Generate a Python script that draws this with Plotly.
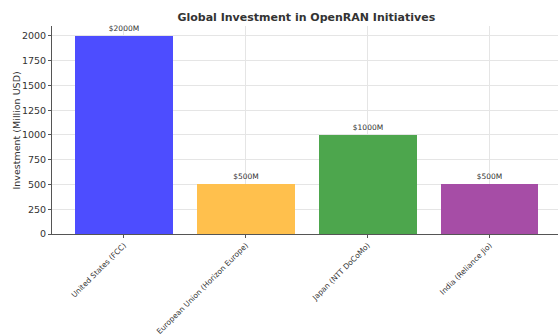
import plotly.graph_objects as go

categories = ["United States (FCC)", "European Union (Horizon Europe)", "Japan (NTT DoCoMo)", "India (Reliance Jio)"]
values = [2000, 500, 1000, 500]
labels = ["$2000M", "$500M", "$1000M", "$500M"]
colors = ["rgb(77,77,255)", "rgb(255,192,77)", "rgb(77,166,77)", "rgb(166,77,166)"]
yticks = [0, 250, 500, 750, 1000, 1250, 1500, 1750, 2000]

fig = go.Figure()
fig.add_trace(go.Bar(
    x=list(range(len(categories))), y=values, width=0.8,
    marker=dict(color=colors, line=dict(width=0)),
    text=labels, textposition="outside", cliponaxis=False,
    textfont=dict(size=7.5, color="#333333"),
))
fig.update_layout(
    width=558, height=335,
    margin=dict(l=52, r=0, t=26, b=101),
    paper_bgcolor="white", plot_bgcolor="white",
    font=dict(family="DejaVu Sans", color="#333333"),
    title=dict(text="<b>Global Investment in OpenRAN Initiatives</b>", x=0.549, xanchor="center",
               y=0.95, yanchor="middle", font=dict(size=11, color="#333333")),
    showlegend=False, bargap=0,
    annotations=[dict(text="Investment (Million USD)", xref="paper", yref="paper",
                      x=-0.0702, y=0.5, xanchor="center", yanchor="middle", textangle=-90,
                      showarrow=False, font=dict(size=9.5, color="#333333"))],
)
fig.update_xaxes(
    range=[-0.59, 3.56], tickvals=list(range(len(categories))), ticktext=categories,
    tickangle=-45, tickfont=dict(size=7.5, color="#333333"),
    showgrid=True, gridcolor="#e5e5e5", gridwidth=1,
    showline=True, linecolor="#555555", linewidth=1,
    ticks="outside", ticklen=3, tickcolor="#555555", zeroline=False,
)
fig.update_yaxes(
    range=[0, 2100], tickvals=yticks,
    tickfont=dict(size=9.5, color="#333333"),
    showgrid=True, gridcolor="#e5e5e5", gridwidth=1,
    showline=True, linecolor="#555555", linewidth=1,
    ticks="outside", ticklen=3, tickcolor="#555555", zeroline=False,
)
fig.write_html("out.html")
